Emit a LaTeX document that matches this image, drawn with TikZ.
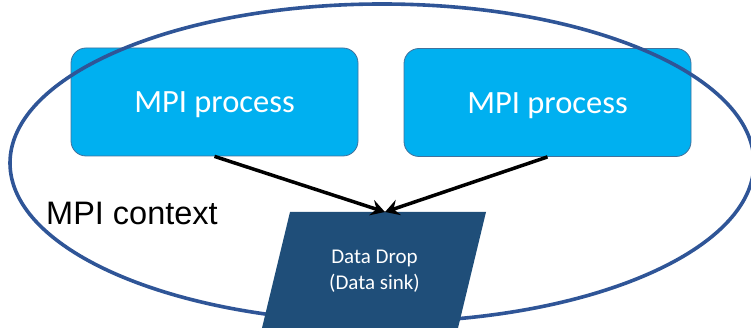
\documentclass[tikz,border=0pt]{standalone}
\usepackage{fontspec}
\setmainfont{Carlito}
\newfontfamily\arialfont{Liberation Sans}
\usetikzlibrary{arrows.meta,shapes.geometric}
\definecolor{procblue}{HTML}{00B0F0}
\definecolor{procedge}{HTML}{41719C}
\definecolor{ellblue}{HTML}{2F5597}
\definecolor{sinkblue}{HTML}{1F4E79}
\tikzset{
  proc/.style={draw=procedge, line width=0.8pt, fill=procblue, rounded corners=15pt,
    minimum width=287pt, minimum height=108pt, text=white, inner sep=0pt},
  proctext/.style={text=white, font=\fontsize{32.5}{38}\selectfont, inner sep=0pt},
  conn/.style={draw=black, line width=3.5pt, -{Stealth[length=14pt,width=16pt,inset=5pt]}, shorten >=0pt},
}
\begin{document}
\begin{tikzpicture}[x=1pt,y=-1pt]
\useasboundingbox (0,0) rectangle (751,328);
\clip (0,0) rectangle (751,328);
\node[proc] (p1) at (214.5,102) {};
\node[proctext] (t1) at (214.5,105) {MPI process};
\node[proc] (p2) at (547.5,102.5) {};
\node[proctext] (t2) at (547.5,105.5) {MPI process};
\draw[ellblue, line width=3.6pt] (382,163) ellipse [x radius=372, y radius=159];
\node[font=\arialfont\fontsize{32.5}{38}\selectfont, anchor=west, inner sep=0pt] (ctx) at (46,213) {MPI context};
\coordinate (sinktop) at (385,212);
\fill[sinkblue] (290,212) -- (486,212) -- (458,328) -- (262,328) -- cycle;
\node[text=white, font=\fontsize{21}{25.5}\selectfont, align=center, inner sep=0pt] (sink) at (374.5,271) {Data Drop\\(Data sink)};
\draw[conn] (p1.south) -- (sinktop);
\draw[conn] (p2.south) -- (sinktop);
\end{tikzpicture}
\end{document}
